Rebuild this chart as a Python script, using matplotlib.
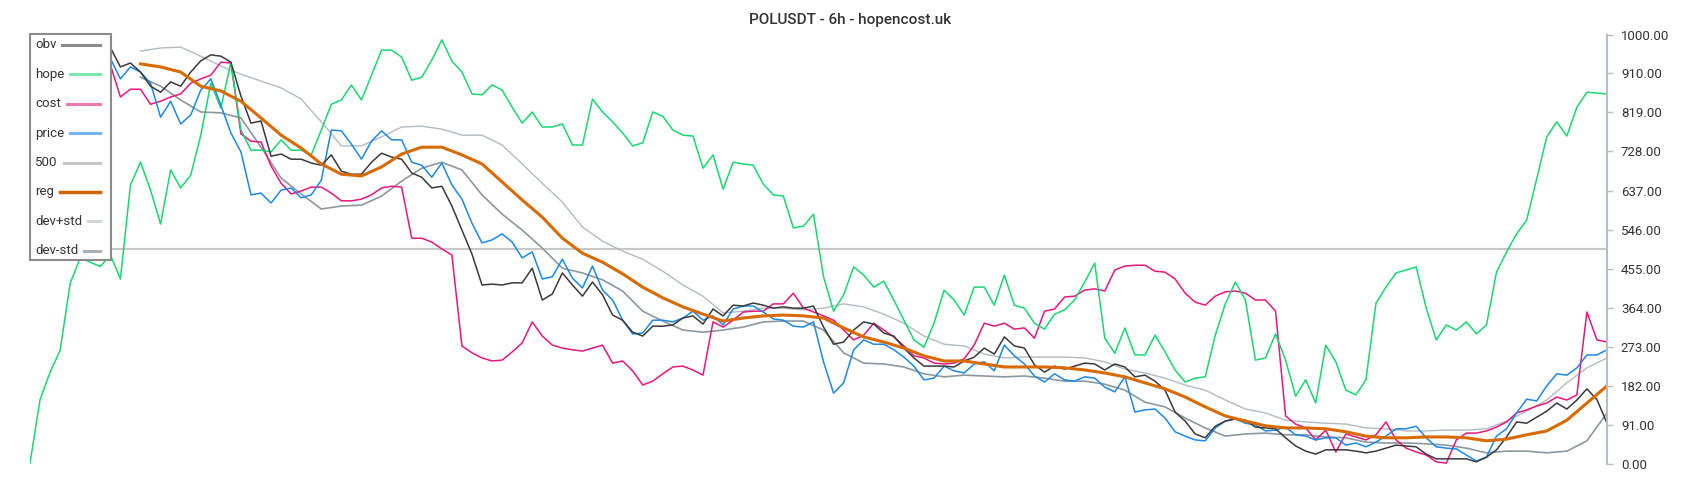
import matplotlib
matplotlib.use("Agg")
import matplotlib.pyplot as plt
from matplotlib.patches import Rectangle
from matplotlib.lines import Line2D
import numpy as np

plt.rcParams["font.family"] = ["Roboto", "DejaVu Sans"]

title = "POLUSDT - 6h - hopencost.uk"

# values (one sample every ~10 px)
hope = [2, 150, 214, 265, 421, 480, 470, 460, 487, 431,
        650, 703, 638, 559, 685, 643, 673, 766, 887, 829,
        936, 778, 731, 731, 727, 755, 731, 731, 720, 778,
        838, 848, 883, 848, 906, 964, 964, 948, 894, 901,
        941, 988, 939, 913, 862, 860, 883, 871, 831, 794,
        820, 785, 785, 792, 743, 743, 850, 820, 797, 771,
        741, 748, 820, 810, 778, 766, 764, 689, 720, 640,
        703, 699, 696, 652, 627, 624, 550, 554, 582, 436,
        356, 394, 459, 440, 412, 426, 382, 335, 289, 272,
        328, 405, 382, 347, 412, 412, 370, 440, 370, 363,
        328, 314, 349, 359, 382, 424, 468, 293, 258, 317,
        254, 254, 300, 261, 219, 191, 200, 203, 300, 373,
        424, 382, 242, 247, 303, 242, 158, 196, 142, 277,
        238, 172, 161, 196, 375, 412, 445, 452, 459, 363,
        289, 324, 312, 331, 303, 324, 447, 494, 536, 568,
        664, 762, 797, 764, 831, 866, 864, 862]

cost = [998, 985, 975, 965, 955, 945, 940, 935, 930, 855,
        873, 873, 838, 845, 855, 862, 887, 897, 906, 936,
        934, 769, 752, 750, 694, 654, 629, 636, 645, 645,
        631, 613, 613, 617, 627, 643, 647, 645, 526, 526,
        517, 501, 487, 275, 259, 247, 240, 242, 261, 282,
        331, 298, 277, 270, 266, 263, 270, 277, 235, 240,
        217, 184, 193, 210, 226, 228, 219, 207, 331, 319,
        335, 354, 356, 356, 373, 373, 398, 363, 354, 345,
        335, 312, 289, 300, 328, 312, 296, 275, 252, 247,
        235, 233, 235, 245, 277, 328, 321, 328, 314, 317,
        293, 356, 361, 389, 391, 405, 408, 403, 452, 461,
        463, 463, 449, 447, 431, 398, 377, 370, 391, 401,
        403, 398, 382, 382, 356, 112, 93, 84, 56, 79,
        28, 70, 63, 56, 68, 98, 56, 37, 28, 21,
        5, 2, 56, 72, 72, 77, 86, 98, 119, 126,
        135, 142, 156, 149, 161, 354, 289, 284]

price = [985, 975, 960, 950, 955, 945, 950, 945, 945, 897,
         925, 913, 887, 808, 845, 792, 813, 871, 897, 836,
         771, 727, 627, 631, 608, 638, 643, 620, 627, 661,
         778, 776, 745, 710, 752, 776, 755, 755, 703, 696,
         668, 701, 650, 617, 561, 515, 522, 536, 517, 480,
         494, 431, 436, 477, 433, 410, 461, 405, 382, 335,
         303, 305, 335, 335, 331, 340, 356, 335, 345, 324,
         361, 368, 368, 354, 338, 335, 321, 319, 331, 238,
         165, 189, 266, 289, 279, 279, 266, 249, 228, 196,
         200, 228, 217, 212, 233, 238, 217, 277, 252, 233,
         205, 191, 210, 196, 193, 203, 200, 179, 168, 203,
         121, 126, 128, 107, 75, 65, 56, 54, 84, 100,
         105, 95, 91, 77, 79, 86, 68, 65, 56, 61,
         61, 44, 49, 40, 51, 65, 82, 82, 88, 61,
         40, 37, 35, 21, 7, 16, 65, 82, 119, 151,
         147, 182, 210, 207, 224, 254, 254, 266]

obv = [995, 985, 975, 980, 965, 975, 960, 968, 970, 925,
       934, 913, 880, 866, 890, 880, 913, 939, 953, 950,
       936, 857, 794, 799, 717, 722, 710, 710, 701, 696,
       720, 682, 675, 675, 703, 724, 715, 710, 678, 668,
       643, 647, 601, 545, 489, 417, 419, 417, 422, 422,
       456, 382, 396, 445, 417, 391, 424, 394, 347, 335,
       307, 298, 321, 321, 324, 340, 345, 326, 361, 345,
       370, 368, 375, 370, 363, 366, 363, 363, 368, 319,
       279, 284, 312, 331, 326, 305, 298, 270, 247, 228,
       228, 228, 226, 240, 249, 270, 256, 296, 275, 270,
       231, 214, 228, 221, 228, 235, 233, 219, 233, 226,
       203, 207, 193, 172, 121, 100, 70, 61, 88, 100,
       105, 102, 86, 84, 82, 61, 42, 30, 23, 33,
       33, 33, 30, 26, 30, 37, 44, 42, 40, 23,
       12, 12, 12, 12, 5, 16, 33, 63, 98, 95,
       109, 123, 142, 128, 149, 175, 150, 95]

# smooth series, one sample every second step starting at step 11
reg = [932, 925, 913, 880, 869, 845, 806, 766, 736, 699,
       675, 671, 692, 722, 738, 738, 720, 699, 657, 615,
       575, 526, 491, 470, 443, 412, 387, 366, 349, 333,
       340, 345, 347, 345, 340, 317, 296, 284, 270, 252,
       240, 240, 233, 226, 226, 226, 224, 219, 212, 203,
       189, 175, 156, 133, 112, 100, 89, 84, 84, 82,
       75, 65, 61, 61, 63, 63, 61, 54, 58, 68,
       77, 102, 142, 182]

dev_plus = [962, 969, 971, 950, 927, 908, 892, 876, 850, 797,
            741, 741, 762, 785, 787, 780, 766, 766, 743, 699,
            654, 610, 552, 519, 496, 477, 449, 417, 391, 352,
            356, 363, 363, 359, 363, 373, 366, 349, 328, 298,
            279, 275, 256, 247, 249, 249, 249, 247, 238, 221,
            212, 200, 184, 172, 149, 128, 119, 102, 98, 95,
            93, 84, 82, 77, 77, 79, 79, 82, 100, 123,
            149, 189, 224, 247]

dev_minus = [901, 880, 848, 820, 818, 806, 738, 666, 629, 594,
             601, 603, 624, 659, 689, 703, 685, 627, 582, 545,
             503, 456, 445, 429, 403, 356, 333, 312, 307, 312,
             319, 331, 333, 333, 312, 259, 235, 233, 226, 210,
             203, 207, 205, 203, 205, 200, 193, 193, 186, 172,
             144, 133, 107, 84, 65, 70, 72, 68, 68, 63,
             61, 51, 49, 49, 47, 44, 37, 26, 30, 30,
             26, 30, 54, 119]

level = 500
tick_values = [0, 91, 182, 273, 364, 455, 546, 637, 728, 819, 910, 1000]

steps = np.arange(len(hope))
band_steps = np.arange(11, len(hope), 2)

W, H = 1700, 500
fig = plt.figure(figsize=(W / 100, H / 100), dpi=100)
ax = fig.add_axes([30 / W, 36 / H, 1577 / W, 429.3 / H])

ax.axhline(level, color="#c8c8c8", lw=1.5, zorder=1)
ax.plot(band_steps, dev_plus, color="#b3bbc1", lw=1.0)
ax.plot(band_steps, dev_minus, color="#8c98a0", lw=1.2)
ax.plot(steps, cost, color="#e8177f", lw=1.1)
ax.plot(steps, hope, color="#19d86f", lw=1.1)
ax.plot(steps, price, color="#1e88e5", lw=1.1)
ax.plot(steps, obv, color="#3a3a3a", lw=1.1)
ax.plot(band_steps, reg, color="#d96a00", lw=2.2)

ax.set_xlim(0, len(hope) - 1)
ax.set_ylim(0, 1000)
ax.set_xticks([])
ax.yaxis.tick_right()
ax.set_yticks(tick_values)
ax.set_yticklabels([f"{v:.2f}" for v in tick_values])
ax.tick_params(axis="y", length=4, width=1, color="#b4bec3",
               labelsize=9.5, labelcolor="#333333", pad=6)
for side in ["left", "top", "bottom"]:
    ax.spines[side].set_visible(False)
ax.spines["right"].set_color("#b4bec3")
ax.spines["right"].set_linewidth(1.5)

fig.text(0.5, 1 - 20 / H, title, ha="center", va="center",
         fontsize=11, fontweight="medium", color="#333333")

# legend box drawn by hand: label left, line on the right
legend_items = [("obv", "#8a8a8a", 2.2), ("hope", "#7ee8aa", 2.2),
                ("cost", "#ee78b0", 2.2), ("price", "#78b4ec", 2.2),
                ("500", "#c6c6c6", 2.2), ("reg", "#d06400", 2.5),
                ("dev+std", "#d0d5d8", 2.2), ("dev-std", "#a8b2b8", 2.2)]
box = Rectangle((30 / W, 1 - 260 / H), 81 / W, 226 / H, transform=fig.transFigure,
                facecolor="white", edgecolor="#8c8c8c", lw=1.5, zorder=5)
fig.add_artist(box)
renderer = fig.canvas.get_renderer()
for i, (name, color, lw) in enumerate(legend_items):
    ypix = 45 + 29.4 * i
    t = fig.text(35 / W, 1 - ypix / H, name, ha="left", va="center",
                 fontsize=9.5, color="#333333", zorder=6)
    right = t.get_window_extent(renderer=renderer).x1
    fig.add_artist(Line2D([(right + 6) / W, 100 / W], [1 - ypix / H] * 2,
                          transform=fig.transFigure, color=color, lw=lw, zorder=6))

fig.savefig("out.png", dpi=100)
